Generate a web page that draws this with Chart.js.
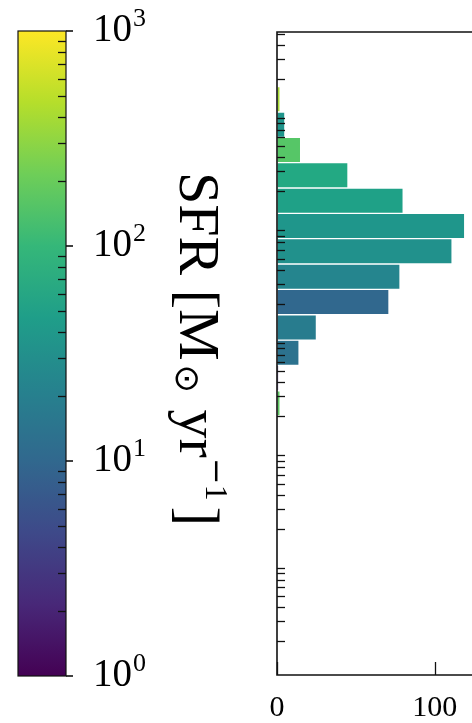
<!DOCTYPE html>
<html>
<head>
<meta charset="utf-8">
<script src="https://cdn.jsdelivr.net/npm/chart.js@4"></script>
<style>
    html, body { margin: 0; padding: 0; width: 472px; height: 723px; overflow: hidden; background: #fff; }
    #cbar-wrap { position: absolute; left: 0; top: 0; width: 240px; height: 723px; }
    #hist-wrap { position: absolute; left: 240px; top: 0; width: 390px; height: 723px; }
</style>
</head>
<body>
<div id="cbar-wrap"><canvas id="cbar"></canvas></div>
<div id="hist-wrap"><canvas id="hist"></canvas></div>
<script>
// Histogram bins: log10 of bin centre, bottom to top
const binCentres = [10.414, 10.639, 10.864, 11.089, 11.315, 11.540, 11.765, 11.990, 12.215, 12.441, 12.666, 12.891, 13.116];
const binCounts = [2, 1, 14, 25, 71, 78, 111, 119, 80, 45, 15, 5, 2];
const binColours = ['#5ec962', '#472c7a', '#2c728e', '#287c8e', '#31688e', '#25858e', '#21918c',
                    '#1f968b', '#1fa187', '#23a983', '#56c667', '#1f958b', '#a8db34'];
const histYRange = [1e8, 5.18e13];
const histXRange = [0, 200];
const histXStep = 100;

// Colorbar (SFR, log scale)
const cbarRange = [1, 1000];
const cbarDecades = [0, 1, 2, 3];
const viridis = ['#440154', '#482878', '#3e4989', '#31688e', '#26828e', '#1f9e89', '#35b779', '#6ece58', '#b5de2b', '#fde725'];

const serif = '"Liberation Serif", "DejaVu Serif", serif';

// ---------- colorbar ----------
const cbarPlugin = {
    id: 'cbarDecor',
    afterDatasetsDraw(chart) {
        const ctx = chart.ctx;
        const area = chart.chartArea;
        const y = chart.scales.y;
        ctx.save();
        ctx.strokeStyle = '#111';
        ctx.lineWidth = 1.2;
        ctx.strokeRect(area.left, area.top, area.right - area.left, area.bottom - area.top);

        // minor ticks point inward, majors outward
        ctx.lineWidth = 1.3;
        for (let d = cbarDecades[0]; d < cbarDecades[cbarDecades.length - 1]; d++) {
            for (let m = 2; m <= 9; m++) {
                const py = Math.round(y.getPixelForValue(m * Math.pow(10, d))) + 0.5;
                ctx.beginPath();
                ctx.moveTo(area.right - 8, py);
                ctx.lineTo(area.right, py);
                ctx.stroke();
            }
        }
        ctx.lineWidth = 1.6;
        cbarDecades.forEach(d => {
            const py = y.getPixelForValue(Math.pow(10, d));
            ctx.beginPath();
            ctx.moveTo(area.right, py);
            ctx.lineTo(area.right + 7, py);
            ctx.stroke();

            ctx.fillStyle = '#000';
            ctx.textBaseline = 'alphabetic';
            ctx.textAlign = 'left';
            ctx.font = '39px ' + serif;
            const base = py + 10;
            ctx.fillText('10', 93, base);
            const w = ctx.measureText('10').width;
            ctx.font = '26px ' + serif;
            ctx.fillText(String(d), 93 + w + 1, base - 15);
        });

        // rotated axis label: SFR [M_sun yr^-1]
        ctx.translate(180, 172);
        ctx.rotate(Math.PI / 2);
        ctx.fillStyle = '#000';
        let x = 0;
        const piece = (txt, size, dy, family) => {
            ctx.font = size + 'px ' + (family || serif);
            ctx.fillText(txt, x, -dy);
            x += ctx.measureText(txt).width;
        };
        piece('SFR [M', 58, 0);
        x += 4;
        piece('\u2299', 34, -4, '"DejaVu Sans", ' + serif);
        x += 2;
        piece(' yr', 58, 0);
        piece('\u2212', 32, 26, '"DejaVu Serif", ' + serif);
        piece('1', 32, 26);
        x += 6;
        piece(']', 58, 0);
        ctx.restore();
    }
};

new Chart(document.getElementById('cbar'), {
    type: 'bar',
    data: {
        labels: ['SFR'],
        datasets: [{
            data: [cbarRange],
            backgroundColor: (c) => {
                const area = c.chart.chartArea;
                if (!area) return viridis[0];
                const g = c.chart.ctx.createLinearGradient(0, area.bottom, 0, area.top);
                viridis.forEach((col, i) => g.addColorStop(i / (viridis.length - 1), col));
                return g;
            },
            borderWidth: 0,
            barPercentage: 1,
            categoryPercentage: 1
        }]
    },
    options: {
        responsive: true,
        maintainAspectRatio: false,
        animation: false,
        layout: { padding: { left: 18, right: 174, top: 31, bottom: 47 } },
        plugins: { legend: { display: false }, tooltip: { enabled: false } },
        scales: {
            x: { display: false },
            y: { type: 'logarithmic', min: cbarRange[0], max: cbarRange[1], display: false }
        }
    },
    plugins: [cbarPlugin]
});

// ---------- histogram ----------
const histPlugin = {
    id: 'histFrame',
    afterDatasetsDraw(chart) {
        const ctx = chart.ctx;
        const area = chart.chartArea;
        const y = chart.scales.y;
        const xs = chart.scales.x;
        ctx.save();
        ctx.strokeStyle = '#111';
        ctx.lineWidth = 1.6;
        ctx.beginPath();
        ctx.moveTo(area.right, area.top);
        ctx.lineTo(area.left, area.top);
        ctx.lineTo(area.left, area.bottom);
        ctx.lineTo(area.right, area.bottom);
        ctx.stroke();

        ctx.lineWidth = 1.3;
        const lo = Math.floor(Math.log10(histYRange[0]));
        const hi = Math.ceil(Math.log10(histYRange[1]));
        for (let d = lo; d < hi; d++) {
            for (let m = 2; m <= 9; m++) {
                const v = m * Math.pow(10, d);
                if (v < histYRange[0] || v > histYRange[1]) continue;
                const py = Math.round(y.getPixelForValue(v)) + 0.5;
                ctx.beginPath();
                ctx.moveTo(area.left, py);
                ctx.lineTo(area.left + 8, py);
                ctx.stroke();
            }
        }
        for (let v = histXRange[0]; v <= histXRange[1]; v += histXStep) {
            const px = Math.round(xs.getPixelForValue(v)) + 0.5;
            ctx.beginPath();
            ctx.moveTo(px, area.bottom);
            ctx.lineTo(px, area.bottom - 13);
            ctx.stroke();
        }
        ctx.restore();
    }
};

new Chart(document.getElementById('hist'), {
    type: 'bar',
    data: {
        datasets: [{
            data: binCentres.map((c, i) => ({ x: binCounts[i], y: Math.pow(10, c) })),
            backgroundColor: binColours,
            borderColor: '#ffffff',
            borderWidth: 1,
            borderSkipped: false,
            barPercentage: 1,
            categoryPercentage: 1
        }]
    },
    options: {
        indexAxis: 'y',
        responsive: true,
        maintainAspectRatio: false,
        animation: false,
        layout: { padding: { left: 37, right: 18, top: 32, bottom: 0 } },
        plugins: { legend: { display: false }, tooltip: { enabled: false } },
        scales: {
            y: {
                type: 'logarithmic',
                min: histYRange[0],
                max: histYRange[1],
                display: false,
                afterBuildTicks: (s) => { s.ticks = []; }
            },
            x: {
                type: 'linear',
                min: histXRange[0],
                max: histXRange[1],
                position: 'bottom',
                grid: { display: false, drawTicks: false },
                border: { display: false },
                ticks: { stepSize: histXStep, color: '#000', padding: 15, font: { family: serif, size: 30 } },
                afterFit: (s) => { s.height = 48; }
            }
        }
    },
    plugins: [histPlugin]
});
</script>
</body>
</html>
